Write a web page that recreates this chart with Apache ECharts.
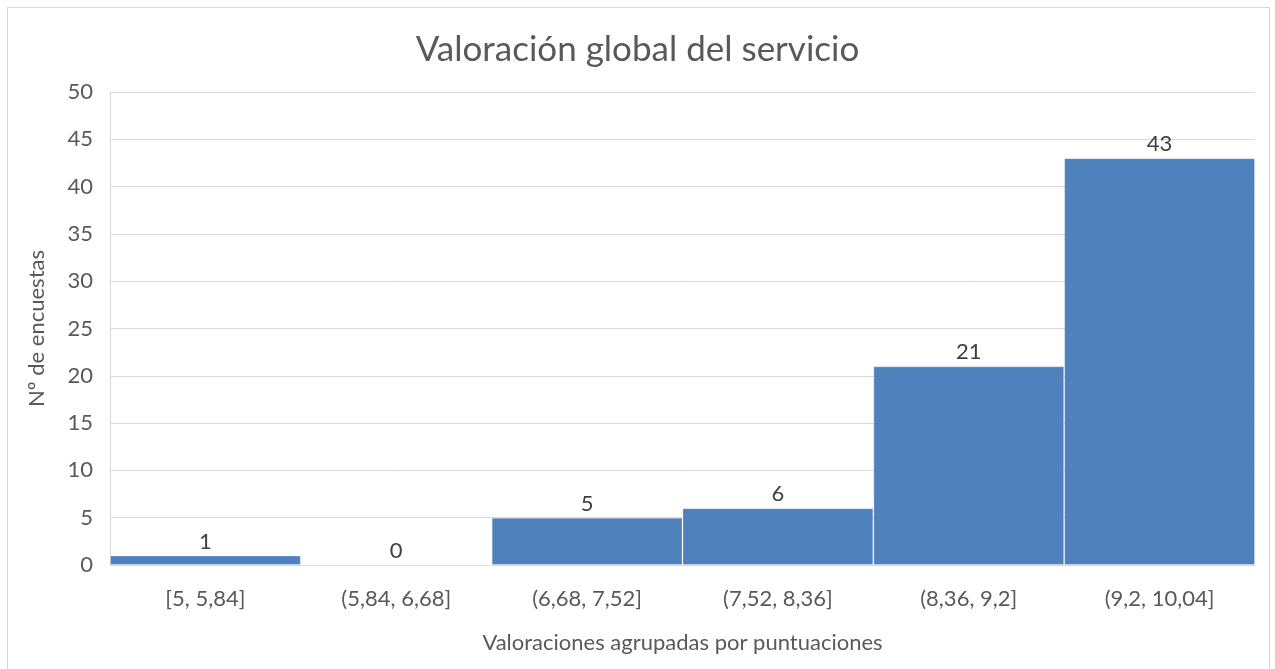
<!DOCTYPE html>
<html><head><meta charset="utf-8">
<script src="https://cdn.jsdelivr.net/npm/echarts@6/dist/echarts.min.js"></script>
<style>html,body{margin:0;padding:0;background:#fff}#frame{position:absolute;left:7px;top:7px;width:1263px;height:700px;border:1px solid #d9d9d9;box-sizing:border-box}#c{position:absolute;left:0;top:0;width:1275px;height:669px}</style>
</head><body><div id="frame"></div><div id="c"></div>
<script>
const categories = ['[5, 5,84]', '(5,84, 6,68]', '(6,68, 7,52]', '(7,52, 8,36]', '(8,36, 9,2]', '(9,2, 10,04]'];
const counts = [1, 0, 5, 6, 21, 43];
const yTicks = { min: 0, max: 50, interval: 5 };
const FONT = 'Lato';
const chart = echarts.init(document.getElementById('c'));
chart.setOption({
  animation: false,
  textStyle: { fontFamily: FONT },
  title: { text: 'Valoración global del servicio', left: 'center', top: 27,
    textStyle: { fontFamily: FONT, fontSize: 35, fontWeight: 'normal', color: '#595959' } },
  grid: { left: 110, right: 20, top: 92, bottom: 104 },
  xAxis: { type: 'category', data: categories,
    axisLine: { show: true, lineStyle: { color: '#d9d9d9', width: 1 } },
    axisTick: { show: false },
    axisLabel: { fontFamily: FONT, fontSize: 22, color: '#595959', margin: 23 },
    name: 'Valoraciones agrupadas por puntuaciones', nameLocation: 'middle', nameGap: 67,
    nameTextStyle: { fontFamily: FONT, fontSize: 22, color: '#595959' } },
  yAxis: { type: 'value', min: yTicks.min, max: yTicks.max, interval: yTicks.interval,
    axisLine: { show: true, lineStyle: { color: '#d9d9d9' } },
    axisTick: { show: false },
    splitLine: { lineStyle: { color: '#d9d9d9', width: 1 } },
    axisLabel: { fontFamily: FONT, fontSize: 22, color: '#595959', margin: 17 },
    name: 'Nº de encuestas', nameLocation: 'middle', nameGap: 62, nameRotate: 90,
    nameTextStyle: { fontFamily: FONT, fontSize: 22, color: '#595959' } },
  series: [{ type: 'bar', data: counts, barWidth: '100%', barCategoryGap: '0%',
    itemStyle: { color: '#4f81bd', borderColor: 'rgba(255,255,255,0.25)', borderWidth: 1 },
    label: { show: true, position: 'top', distance: 3, fontFamily: FONT, fontSize: 22, color: '#404040' } }]
});
</script></body></html>
